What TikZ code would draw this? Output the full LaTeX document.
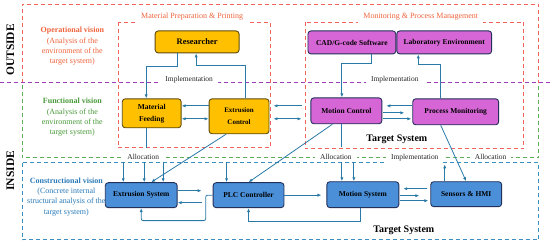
\documentclass[tikz,border=0pt]{standalone}
\usepackage{fontspec}
\setmainfont{Liberation Serif}
\usetikzlibrary{arrows.meta}
\definecolor{goldfill}{HTML}{FFC000}
\definecolor{goldline}{HTML}{5E4B0E}
\definecolor{pinkfill}{HTML}{D666D6}
\definecolor{bluefill}{HTML}{4A8FD8}
\definecolor{boxline}{HTML}{23305A}
\definecolor{linkcol}{HTML}{2A7AA8}
\definecolor{zonered}{HTML}{F4645A}
\definecolor{zonepurple}{HTML}{9A3FB5}
\definecolor{zonegreen}{HTML}{5DAE57}
\definecolor{zoneblue}{HTML}{3A8EC0}
\definecolor{optext}{HTML}{F0643C}
\definecolor{fntext}{HTML}{4A9A3A}
\definecolor{cntext}{HTML}{2B7BB9}

\begin{document}
\begin{tikzpicture}[x=1pt,y=-1pt,font=\fontsize{7.5}{9}\selectfont,>={Latex[length=4pt,width=3.2pt]},
  box/.style={draw,rounded corners=3pt,line width=0.9pt,align=center,inner sep=0pt,font=\fontsize{7.5}{9}\selectfont\bfseries},
  gold/.style={box,draw=goldline,fill=goldfill},
  pink/.style={box,draw=boxline,fill=pinkfill},
  blue/.style={box,draw=boxline,fill=bluefill},
  link/.style={draw=linkcol,line width=0.8pt},
  zone/.style={line width=0.9pt,dash pattern=on 4pt off 3pt},
  tag/.style={fill=white,inner xsep=5pt,inner ysep=3pt,text=black!85},
  title/.style={fill=white,inner xsep=5pt,inner ysep=3pt,text=optext,font=\fontsize{8}{9}\selectfont},
  side/.style={rotate=90,font=\fontsize{11.5}{12}\selectfont\bfseries},
  vision/.style={align=center,font=\fontsize{8}{10.3}\selectfont}]
  \fill[white] (0,0) rectangle (550,245);
  % viewpoint zones
  \draw[zone,zonered] (22,83) -- (22,4) -- (539,4) -- (539,83);
  \draw[zone,zonegreen] (22,85) -- (22,158) -- (539,158) -- (539,85);
  \draw[zone,zoneblue] (22,163) rectangle (539,240);
  \draw[zone,zonered] (118,22) rectangle (270,148);
  \draw[zone,zonered] (305,22) rectangle (524,149);
  \draw[zone,zonepurple] (0,83) -- (550,83);
  \node[title] (prep) at (192,17) {Material Preparation \& Printing};
  \node[title] (mgmt) at (421,17) {Monitoring \& Process Management};
  \node[tag] (impl1) at (189,80) {Implementation};
  \node[tag] (impl2) at (395,80) {Implementation};
  \node[tag] (alloc1) at (143,157) {Allocation};
  \node[tag] (alloc2) at (336,157) {Allocation};
  \node[tag] (impl3) at (415,158) {Implementation};
  \node[tag] (alloc3) at (491,157) {Allocation};
  \node[font=\fontsize{10}{12}\selectfont\bfseries] (tsys1) at (397,140) {Target System};
  \node[font=\fontsize{10}{12}\selectfont\bfseries] (tsys2) at (404,231) {Target System};
  % left labels
  \node[side] (outside) at (10,50) {OUTSIDE};
  \node[side] (inside) at (10,171) {INSIDE};
  \node[vision,text=optext] (opv) at (72,46.5) {\textbf{Operational vision}\\(Analysis of the\\environment of the\\target system)};
  \node[vision,text=fntext] (fnv) at (72,117.5) {\textbf{Functional vision}\\(Analysis of the\\environment of the\\target system)};
  \node[vision,text=cntext] (cnv) at (66,197) {\textbf{Constructional vision}\\(Concrete internal\\structural analysis of the\\target system)};
  % blocks
  \node[gold,minimum width=84,minimum height=22,font=\fontsize{8.5}{10}\selectfont\bfseries] (res) at (197,42) {Researcher};
  \node[gold,minimum width=59,minimum height=29] (feed) at (151.5,113.5) {Material\\[3pt]Feeding};
  \node[gold,minimum width=60,minimum height=35,font=\fontsize{7}{9}\selectfont\bfseries] (extc) at (239,116.5) {Extrusion\\[3pt]Control};
  \node[pink,minimum width=88,minimum height=23] (cad) at (352,42.5) {CAD/G-code Software};
  \node[pink,minimum width=95,minimum height=23] (lab) at (444.5,42.5) {Laboratory Environment};
  \node[pink,minimum width=71,minimum height=26] (motc) at (346.5,111) {Motion Control};
  \node[pink,minimum width=86,minimum height=26] (pmon) at (456,112) {Process Monitoring};
  \node[blue,minimum width=72,minimum height=25] (exts) at (141,195.5) {Extrusion System};
  \node[blue,minimum width=71,minimum height=25] (plc) at (248.5,195.5) {PLC Controller};
  \node[blue,minimum width=72,minimum height=26] (mots) at (363,195) {Motion System};
  \node[blue,minimum width=71,minimum height=25] (hmi) at (466.5,194.5) {Sensors \& HMI};
  % operational level
  \draw[link,->] ([xshift=-20pt]res.south) -- ++(0,13) -| ([xshift=-5.5pt]feed.north);
  \draw[link,->] ([xshift=6pt]extc.north) -- ++(0,-33) -| ([xshift=-1pt]res.south);
  \draw[link,->] ([xshift=20pt]cad.south) -- ++(0,9) -| ([xshift=-4.5pt]motc.north);
  \draw[link,->] ([xshift=-15pt]pmon.north) -- ++(0,-34) -| ([xshift=-26pt]lab.south);
  % functional level
  \draw[link,->] (extc.west |- 0,106) -- (feed.east |- 0,106);
  \draw[link,<->] (feed.east |- 0,119) -- (extc.west |- 0,119);
  \draw[link,->,shorten <=9pt,shorten >=4pt] (motc.west |- 0,106) -- (extc.east |- 0,106);
  \draw[link,<->,shorten <=4pt,shorten >=9pt] (extc.east |- 0,119) -- (motc.west |- 0,119);
  \draw[link,->,shorten >=4pt] (pmon.west |- 0,106) -- (motc.east |- 0,106);
  \draw[link,->,shorten <=1pt,shorten >=8pt] (motc.east |- 0,113) -- (pmon.west |- 0,113);
  \draw[link,->,shorten <=1pt,shorten >=1pt] (motc.east |- 0,119) -- (pmon.west |- 0,119);
  \draw[link] ([xshift=-5.5pt]feed.south) -- ++(0,20);
  \draw[link] ([xshift=-4.5pt]motc.south) -- ++(0,23);
  \draw[link,->] ([xshift=-13pt]extc.south) -- ([xshift=10pt]exts.north);
  \draw[link,->] ([xshift=-14pt]motc.south) -- (plc.north);
  \draw[link,->] ([xshift=-15pt]pmon.south) -- (hmi.north);
  % allocation to the constructional level
  \foreach \dx in {-18,3,22}
    \draw[link,<-] ([xshift=\dx pt]exts.north) -- ++(0,-20);
  \draw[link,<-] ([xshift=-22pt]plc.north) -- ++(0,-20);
  \foreach \dx in {-21,-9}
    \draw[link,<-] ([xshift=\dx pt]mots.north) -- ++(0,-19);
  \draw[link,->] ([xshift=-21.5pt]hmi.north) -- ++(0,-17);
  % constructional level
  \draw[link,->,shorten >=11pt] (exts.east |- 0,191) -- (plc.west |- 0,191);
  \draw[link,->,shorten <=11pt] (plc.west |- 0,203) -- (exts.east |- 0,203);
  \draw[link,->,rounded corners=2pt] (plc.west) -- ++(-7,0) -- ++(0,25.5) -| (exts.south);
  \draw[link,->,shorten >=5pt] (plc.east) -- (mots.west |- plc.east);
  \draw[link,->] ([xshift=-2pt]mots.south) -- ++(0,13) -| (plc.south);
  \draw[link,->,shorten <=3pt,shorten >=4pt] (hmi.west |- 0,189) -- (mots.east |- 0,189);
  \draw[link,->,shorten <=1pt,shorten >=11pt] (mots.east |- 0,196) -- (hmi.west |- 0,196);
  \draw[link,->,shorten <=1pt,shorten >=2pt] (mots.east |- 0,201) -- (hmi.west |- 0,201);
\end{tikzpicture}
\end{document}
